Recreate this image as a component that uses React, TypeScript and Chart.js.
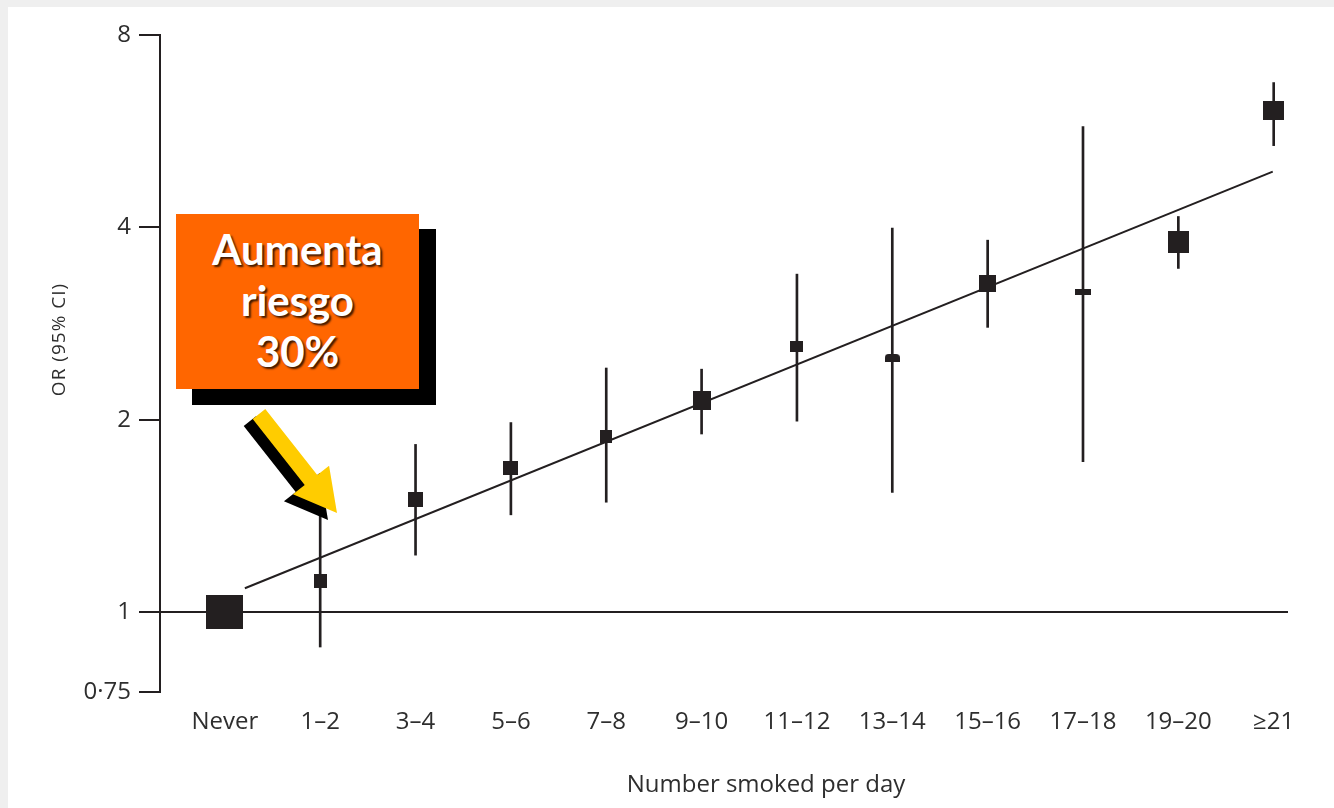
import React, { useEffect, useRef } from "react";
import { Chart, registerables } from "chart.js";

Chart.register(...registerables);

const categories = ["Never", "1–2", "3–4", "5–6", "7–8", "9–10", "11–12", "13–14", "15–16", "17–18", "19–20", "≥21"];
const oddsRatio = [1.0, 1.12, 1.5, 1.68, 1.885, 2.145, 2.6, 2.5, 3.27, 3.17, 3.8, 6.1];
const ciLower = [null, 0.882, 1.228, 1.42, 1.486, 1.9, 1.99, 1.54, 2.79, 1.72, 3.45, 5.37];
const ciUpper = [null, 1.418, 1.83, 1.98, 2.41, 2.4, 3.38, 3.99, 3.82, 5.75, 4.16, 6.74];
const trendX = [0.21, 10.99];
const trendY = [1.09, 4.89];
const yTicks = [0.75, 1, 2, 4, 8];
const yTickLabels = ["0·75", "1", "2", "4", "8"];

// marker appearance (study weight), kept apart from the data
const markerWidth = [37, 13, 15, 15, 12, 18, 13, 15, 17, 16, 21, 21];
const markerHeight = [34, 14, 15, 14, 13, 19, 11, 8, 17, 6, 22, 19];
const markerRoundTop = [false, false, false, false, false, false, false, true, false, false, false, false];

const INK = "#231f20";
const TEXT = "#2e2e2e";

function makeMarker(w: number, h: number, round: boolean) {
  const c = document.createElement("canvas");
  c.width = w;
  c.height = h;
  const g = c.getContext("2d")!;
  g.fillStyle = INK;
  if (round && (g as any).roundRect) {
    g.beginPath();
    (g as any).roundRect(0, 0, w, h, [h / 2, h / 2, 0, 0]);
    g.fill();
  } else {
    g.fillRect(0, 0, w, h);
  }
  return c;
}

const titlesPlugin = {
  id: "axisTitles",
  afterDraw(chart: any) {
    const { ctx, chartArea } = chart;
    ctx.save();
    ctx.fillStyle = TEXT;
    ctx.textAlign = "center";
    ctx.textBaseline = "alphabetic";
    ctx.font = '24px "Open Sans"';
    ctx.fillText("Number smoked per day", (chartArea.left + chartArea.right) / 2 + 42, 792);
    ctx.translate(65, (chartArea.top + chartArea.bottom) / 2 - 24);
    ctx.rotate(-Math.PI / 2);
    ctx.font = '19px "Open Sans"';
    try {
      (ctx as any).letterSpacing = "1px";
    } catch (e) {}
    ctx.fillText("OR (95% CI)", 0, 0);
    ctx.restore();
  },
};

export default function App() {
  const ref = useRef<HTMLCanvasElement | null>(null);

  useEffect(() => {
    if (!ref.current) return;
    const markers = categories.map((_, i) => makeMarker(markerWidth[i], markerHeight[i], markerRoundTop[i]));
    const points = categories.map((_, i) => ({ x: i, y: oddsRatio[i] }));
    const ciData: any[] = [];
    categories.forEach((_, i) => {
      if (ciLower[i] != null && ciUpper[i] != null) ciData.push({ x: i, y: [ciLower[i], ciUpper[i]] });
    });
    const trend = trendX.map((x, i) => ({ x, y: trendY[i] }));

    const chart = new Chart(ref.current, {
      type: "scatter",
      data: {
        datasets: [
          {
            type: "scatter",
            label: "OR",
            data: points,
            pointStyle: markers as any,
            pointRadius: 5,
            pointHoverRadius: 5,
            backgroundColor: INK,
            borderColor: INK,
          } as any,
          {
            type: "line",
            label: "Trend",
            data: trend,
            borderColor: INK,
            borderWidth: 2,
            pointRadius: 0,
            fill: false,
          } as any,
          {
            type: "bar",
            label: "95% CI",
            data: ciData,
            backgroundColor: INK,
            borderWidth: 0,
            barThickness: 2,
          } as any,
        ],
      },
      options: {
        responsive: false,
        animation: false,
        devicePixelRatio: 1,
        layout: { padding: { left: 0, top: 35, right: 46, bottom: 0 } },
        plugins: { legend: { display: false }, tooltip: { enabled: false } },
        scales: {
          x: {
            type: "linear",
            min: -0.68,
            max: 11.15,
            offset: false,
            grid: { display: false },
            border: { display: false },
            afterBuildTicks: (scale: any) => {
              scale.ticks = categories.map((_, i) => ({ value: i }));
            },
            afterFit: (scale: any) => {
              scale.height = 116;
            },
            ticks: {
              autoSkip: false,
              maxRotation: 0,
              padding: 8,
              color: TEXT,
              font: { family: '"Open Sans"', size: 24 },
              callback: (v: any) => categories[Math.round(Number(v))],
            },
          },
          y: {
            type: "logarithmic",
            min: 0.75,
            max: 8,
            afterBuildTicks: (scale: any) => {
              scale.ticks = yTicks.map((v) => ({ value: v }));
            },
            afterFit: (scale: any) => {
              scale.width = 160;
            },
            grid: {
              display: true,
              drawOnChartArea: true,
              drawTicks: true,
              tickLength: 21,
              lineWidth: 2,
              color: (c: any) => (c.tick && c.tick.value === 1 ? INK : "rgba(0,0,0,0)"),
              tickColor: INK,
              tickWidth: 2,
            },
            border: { display: true, color: INK, width: 2 },
            ticks: {
              padding: 8,
              color: TEXT,
              font: { family: '"Open Sans"', size: 24 },
              callback: (v: any) => {
                const idx = yTicks.indexOf(Number(v));
                return idx >= 0 ? yTickLabels[idx] : "";
              },
            },
          },
        },
      },
      plugins: [titlesPlugin],
    } as any);
    return () => chart.destroy();
  }, []);

  // arrow geometry (annotation, not data)
  const tail = { x: 259, y: 414 };
  const tip = { x: 337, y: 513 };
  const ang = (Math.atan2(tip.y - tail.y, tip.x - tail.x) * 180) / Math.PI;
  const len = Math.hypot(tip.x - tail.x, tip.y - tail.y);
  const headLen = 42;
  const shaftHalf = 8;
  const headHalf = 23;
  const poly = [
    [0, -shaftHalf],
    [len - headLen, -shaftHalf],
    [len - headLen, -headHalf],
    [len, 0],
    [len - headLen, headHalf],
    [len - headLen, shaftHalf],
    [0, shaftHalf],
  ]
    .map((p) => p.join(","))
    .join(" ");

  return (
    <div style={{ position: "fixed", left: 0, top: 0, width: 1334, height: 808, background: "#efefef", overflow: "hidden" }}>
      <div style={{ position: "absolute", left: 8, top: 7, right: 0, bottom: 0, background: "#ffffff" }} />
      <canvas ref={ref} width={1334} height={808} style={{ position: "absolute", left: 0, top: 0, width: 1334, height: 808 }} />
      <div style={{ position: "absolute", left: 192, top: 229, width: 244, height: 176, background: "#000000" }} />
      <div
        style={{
          position: "absolute",
          left: 176,
          top: 214,
          width: 243,
          height: 175,
          background: "#ff6600",
          color: "#ffffff",
          fontFamily: "Lato, 'Open Sans', sans-serif",
          fontWeight: 700,
          fontSize: 42,
          lineHeight: "51px",
          textAlign: "center",
          paddingTop: 10,
          boxSizing: "border-box",
          textShadow: "2px 2px 2px rgba(0,0,0,0.75)",
        }}
      >
        Aumenta
        <br />
        riesgo
        <br />
        30%
      </div>
      <svg width={1334} height={808} style={{ position: "absolute", left: 0, top: 0, pointerEvents: "none" }}>
        <g transform={`translate(${tail.x - 9},${tail.y + 7}) rotate(${ang})`}>
          <polygon points={poly} fill="#000000" />
        </g>
        <g transform={`translate(${tail.x},${tail.y}) rotate(${ang})`}>
          <polygon points={poly} fill="#ffcc00" />
        </g>
      </svg>
    </div>
  );
}
